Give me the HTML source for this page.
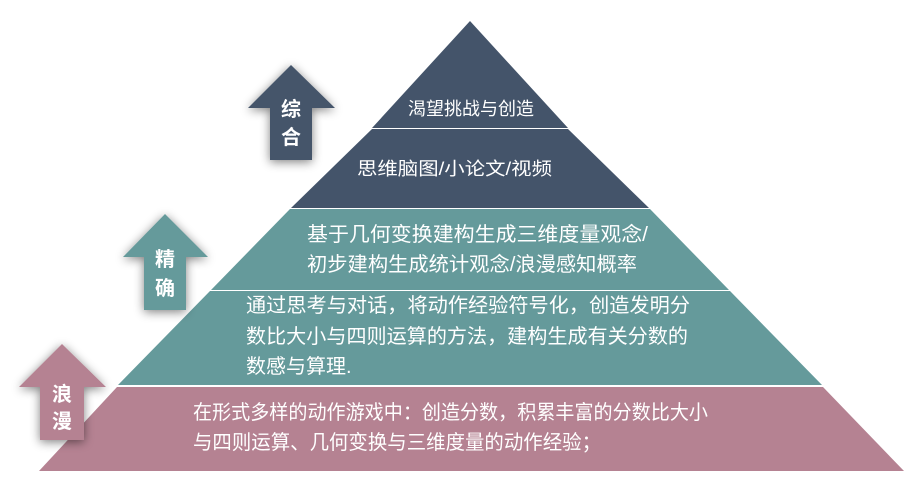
<!DOCTYPE html>
<html><head><meta charset="utf-8"><style>
html,body{margin:0;padding:0;background:#fff;width:909px;height:493px;overflow:hidden}
svg{display:block}
text{font-family:"Liberation Sans","Noto Sans CJK SC",sans-serif;fill:#fff}
</style></head><body>
<svg width="909" height="493" viewBox="0 0 909 493">
<defs>
<filter id="sh" x="-50%" y="-50%" width="200%" height="200%"><feGaussianBlur in="SourceAlpha" stdDeviation="5"/><feOffset dx="0" dy="2"/><feComponentTransfer><feFuncA type="linear" slope="0.5"/></feComponentTransfer><feMerge><feMergeNode/><feMergeNode in="SourceGraphic"/></feMerge></filter>
</defs>
<polygon points="470,21 568,128 372,128" fill="#44546a"/>
<polygon points="372,129 568,129 649,208 291,208" fill="#44546a"/>
<polygon points="290,209 650,209 729,290 211,290" fill="#659a9b"/>
<polygon points="210,291 730,291 822,385 118,385" fill="#659a9b"/>
<polygon points="117,387 823,387 904,471 39,471" fill="#b58292"/>
<g filter="url(#sh)">
<polygon points="291,65 335,108 312,108 312,160 270,160 270,108 248,108" fill="#44546a"/>
<polygon points="165,214 208,257 186,257 186,310 144,310 144,257 123,257" fill="#659a9b"/>
<polygon points="62,344 106,387 84,387 84,440 40,440 40,387 19,387" fill="#b58292"/>
</g>
<g font-size="20" font-weight="bold" text-anchor="middle">
<text x="291" y="116">综</text><text x="291" y="144">合</text>
<text x="165" y="266">精</text><text x="165" y="295">确</text>
<text x="62" y="401">浪</text><text x="62" y="428">漫</text>
</g>
<g font-size="18">
<text x="471" y="115" text-anchor="middle">渴望挑战与创造</text>
<text x="357" y="175" textLength="195" lengthAdjust="spacingAndGlyphs">思维脑图/小论文/视频</text>
</g>
<g font-size="20">
<text x="307" y="241" textLength="341" lengthAdjust="spacingAndGlyphs">基于几何变换建构生成三维度量观念/</text>
<text x="307" y="271" textLength="330" lengthAdjust="spacingAndGlyphs">初步建构生成统计观念/浪漫感知概率</text>
<text x="246" y="312" textLength="444" lengthAdjust="spacingAndGlyphs">通过思考与对话，将动作经验符号化，创造发明分</text>
<text x="246" y="343" textLength="442" lengthAdjust="spacingAndGlyphs">数比大小与四则运算的方法，建构生成有关分数的</text>
<text x="246" y="373">数感与算理.</text>
<text x="193" y="419" textLength="515" lengthAdjust="spacingAndGlyphs">在形式多样的动作游戏中：创造分数，积累丰富的分数比大小</text>
<text x="193" y="449" textLength="408" lengthAdjust="spacingAndGlyphs">与四则运算、几何变换与三维度量的动作经验；</text>
</g>
</svg>
</body></html>
